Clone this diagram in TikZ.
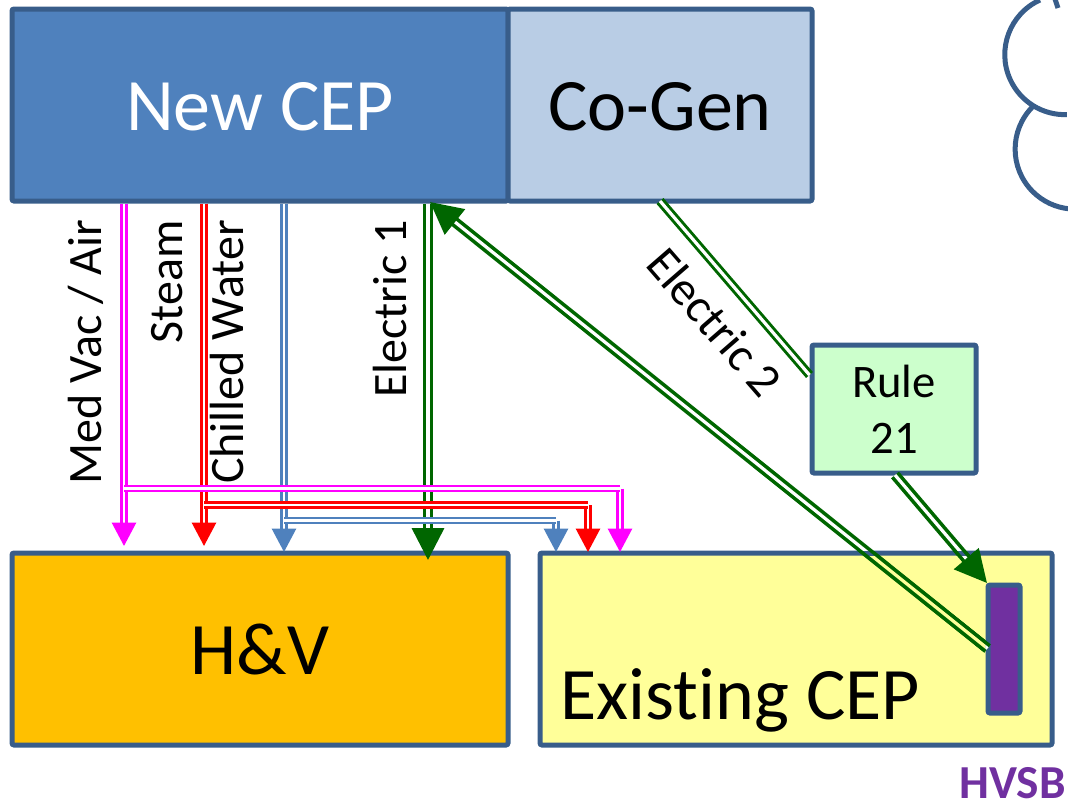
\documentclass[tikz,border=0pt]{standalone}
\usepackage{fontspec}
\setmainfont{Carlito}[Ligatures=NoCommon]
\usetikzlibrary{arrows.meta,calc}
\definecolor{edgeblue}{RGB}{56,93,138}
\definecolor{cepblue}{RGB}{79,129,189}
\definecolor{genblue}{RGB}{185,205,229}
\definecolor{hvorange}{RGB}{255,192,0}
\definecolor{cepyellow}{RGB}{255,255,153}
\definecolor{rulegreen}{RGB}{204,255,204}
\definecolor{hvpurple}{RGB}{112,48,160}
\definecolor{elecgreen}{RGB}{0,102,0}
\definecolor{medpink}{RGB}{255,0,255}
\tikzset{
  block/.style={draw=edgeblue,line width=3.75pt,rounded corners=1.5pt,inner sep=0pt,font=\fontsize{55.5}{60}\selectfont},
  bigtext/.style={text height=38pt,text depth=0pt},
  pipelabel/.style={font=\fontsize{36}{40}\selectfont,inner sep=0pt},
  pipe/.style={line width=1.9pt,double=white,double distance=1.9pt},
  elecpipe/.style={draw=elecgreen,line width=2.7pt,double=white,double distance=2.4pt},
  smalltip/.style={-{Triangle[length=17.5pt,width=18pt]}},
  bigtip/.style={-{Triangle[length=24pt,width=24pt]}},
}
\begin{document}
\begin{tikzpicture}[x=0.75pt,y=0.75pt,yscale=-1,xscale=1]
\useasboundingbox (0,0) rectangle (1068,803);
%boxes
\node[block,bigtext,fill=cepblue,text=white,minimum width=372pt,minimum height=144pt] (newcep) at (260,105) {New CEP};
\node[block,bigtext,fill=genblue,minimum width=228pt,minimum height=144pt] (cogen) at (660,105) {Co-Gen};
\node[block,bigtext,fill=hvorange,minimum width=372pt,minimum height=144pt] (hv) at (260,649) {H\&V};
\node[block,fill=cepyellow,minimum width=384pt,minimum height=144pt] (existing) at (796,649) {};
\node[block,fill=rulegreen,minimum width=123pt,minimum height=96pt,font=\fontsize{35}{42}\selectfont,align=center] (rule) at (894,409) {Rule\\21};
\node[block,fill=hvpurple,minimum width=24pt,minimum height=96pt] (bar) at (1004,649) {};
\node[anchor=base west,inner sep=0pt,font=\fontsize{55.5}{60}\selectfont] (existinglabel) at (560.5,719) {Existing CEP};
%cloud
\draw[edgeblue,line width=3.75pt] (1040,0) arc[start angle=245.6,end angle=88,radius=60];
\draw[edgeblue,line width=3.75pt] (1032.7,106.7) arc[start angle=225,end angle=95,radius=60];
\draw[edgeblue,line width=3.75pt] (1055,-1) -- (1058,8);
%pipe positions
\coordinate (medx) at (124,0);
\coordinate (steamx) at (204,0);
\coordinate (chillx) at (284,0);
\coordinate (elecx) at (428,0);
\coordinate (medend) at (620,488.5);
\coordinate (steamend) at (588,505);
\coordinate (chillend) at (556,520.5);
\coordinate (medtip) at (124,546);
\coordinate (steamtip) at (204,546);
\coordinate (chilltip) at (284,552);
\coordinate (electip) at (428,560);
\coordinate (medtiptwo) at (620,552);
\coordinate (steamtiptwo) at (588,552);
\coordinate (chilltiptwo) at (556,552);
%pipes
\draw[elecpipe,bigtip] (newcep.south -| elecx) -- (electip);
\draw[pipe,draw=cepblue,smalltip] (newcep.south -| chillx) -- (chilltip);
\draw[pipe,draw=red,smalltip] (newcep.south -| steamx) -- (steamtip);
\draw[pipe,draw=medpink,smalltip] (newcep.south -| medx) -- (medtip);
\draw[pipe,draw=cepblue,smalltip] (chillend) -- (chilltiptwo);
\draw[pipe,draw=cepblue] (chillx |- chillend) -- (chillend);
\draw[pipe,draw=red,smalltip] (steamend) -- (steamtiptwo);
\draw[pipe,draw=red] (steamx |- steamend) -- (steamend);
\draw[pipe,draw=medpink,smalltip] (medend) -- (medtiptwo);
\draw[pipe,draw=medpink] (medx |- medend) -- (medend);
%electric from co-gen
\coordinate (genout) at (660,201);
\coordinate (rulein) at (809.5,375);
\coordinate (ruleout) at (895,475);
\coordinate (bartip) at (987,583);
\coordinate (barout) at (987.5,648.5);
\coordinate (newin) at (430,202);
\draw[draw=elecgreen,line width=2.2pt,double=white,double distance=2.4pt] (genout) -- (rulein);
\draw[elecpipe,bigtip] (ruleout) -- (bartip);
\draw[elecpipe,bigtip] (barout) -- (newin);
%the gap shows what lies under the line
\begin{scope}
\clip (542,555) rectangle (985,660);
\draw[elecpipe,double=cepyellow] (barout) -- (newin);
\end{scope}
\begin{scope}
\clip (540,551) rectangle (1052,555);
\draw[elecpipe,double=edgeblue] (barout) -- (newin);
\draw[elecpipe,bigtip,double=edgeblue] (ruleout) -- (bartip);
\end{scope}
%labels
\node[pipelabel,rotate=90] (medlabel) at (86,352) {Med Vac / Air};
\node[pipelabel,rotate=90] (steamlabel) at (167,282) {Steam};
\node[pipelabel,rotate=90] (chilllabel) at (227,352) {Chilled Water};
\node[pipelabel,rotate=90] (eleconelabel) at (390.5,309) {Electric 1};
\node[pipelabel,rotate=-49] (electwolabel) at (715,322) {Electric 2};
\node[anchor=base east,inner sep=0pt,text=hvpurple,font=\bfseries\fontsize{35.5}{40}\selectfont] (hvsb) at (1066,798) {HVSB};
\end{tikzpicture}
\end{document}
